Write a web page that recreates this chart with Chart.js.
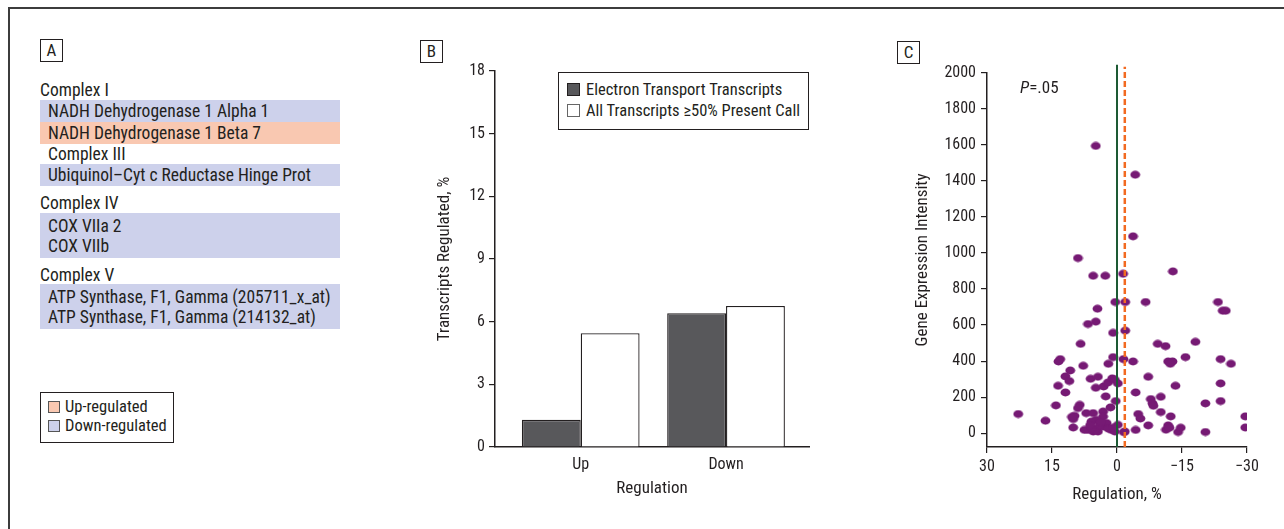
<!DOCTYPE html>
<html>
<head>
<meta charset="utf-8">
<script src="https://cdn.jsdelivr.net/npm/chart.js@4.4.1/dist/chart.umd.min.js"></script>
<style>
  html, body { margin:0; padding:0; background:#fff; }
  body { width:1284px; height:529px; overflow:hidden; position:relative; color:#231f20;
         font-family:'Liberation Sans Narrow','Arial Narrow','Roboto Condensed','Liberation Sans',Arial,sans-serif; }
  .frame { position:absolute; left:8px; top:7px; width:1300px; height:540px; border-left:2px solid #3c3c3c; border-top:2px solid #3c3c3c; }
  .lbl { position:absolute; width:21px; height:21px; border:1px solid #231f20; background:#fff; font-size:17px; line-height:21px; text-align:center; }
  .row { position:absolute; left:40px; width:300px; font-size:17.5px; line-height:20px; white-space:nowrap; }
  .blue { background:#cdd1eb; }
  .orange { background:#f9c8b1; }
  .ind { padding-left:8px; box-sizing:border-box; }
  .lg { position:absolute; border:1px solid #231f20; background:#fff; }
  .sw { position:absolute; width:10px; height:10px; border:1px solid #555; }
  .lt { position:absolute; font-size:16.5px; line-height:20px; white-space:nowrap; }
  canvas { position:absolute; }
</style>
</head>
<body>
<div class="frame"></div>

<!-- Panel A -->
<div class="lbl" style="left:40px;top:39px;">A</div>
<div id="panelA"></div>
<div class="lg" style="left:40px;top:392px;width:132px;height:49px;">
  <div class="sw orange" style="left:7px;top:8px;"></div>
  <div class="lt" style="left:24px;top:4px;">Up-regulated</div>
  <div class="sw blue" style="left:7px;top:27px;"></div>
  <div class="lt" style="left:24px;top:23px;">Down-regulated</div>
</div>

<!-- Panel B -->
<div class="lbl" style="left:420px;top:40px;">B</div>
<canvas id="cB" width="400" height="480" style="left:420px;top:40px;"></canvas>
<div class="lg" style="left:558px;top:72px;width:249px;height:56px;">
  <div class="sw" style="left:8px;top:10px;width:11px;height:11px;background:#58585b;border-color:#231f20;"></div>
  <div class="lt" style="left:27px;top:7px;">Electron Transport Transcripts</div>
  <div class="sw" style="left:8px;top:31px;width:11px;height:11px;background:#fff;border-color:#666;"></div>
  <div class="lt" style="left:27px;top:28px;">All Transcripts ≥50% Present Call</div>
</div>

<!-- Panel C -->
<div class="lbl" style="left:897px;top:41px;">C</div>
<canvas id="cC" width="394" height="480" style="left:890px;top:40px;"></canvas>
<div class="lt" style="left:1020px;top:77px;font-size:17px;"><i>P</i>=.05</div>

<script>
// ---------- Panel A content ----------
const complexGroups = [
  { name: 'Complex I',   indent: false, items: ['NADH Dehydrogenase 1 Alpha 1', 'NADH Dehydrogenase 1 Beta 7'], dirs: ['down', 'up'] },
  { name: 'Complex III', indent: true,  items: ['Ubiquinol–Cyt c Reductase Hinge Prot'], dirs: ['down'] },
  { name: 'Complex IV',  indent: false, items: ['COX VIIa 2', 'COX VIIb'], dirs: ['down', 'down'] },
  { name: 'Complex V',   indent: false, items: ['ATP Synthase, F1, Gamma (205711_x_at)', 'ATP Synthase, F1, Gamma (214132_at)'], dirs: ['down', 'down'] }
];

// ---------- Panel B data ----------
const categories = ['Up', 'Down'];
const electronTransport = [1.3, 6.4];
const allTranscripts = [5.45, 6.75];
const yTicksB = [0, 3, 6, 9, 12, 15, 18];

// ---------- Panel C data ----------
const regulationPct = [4.9,-4.2,-3.7,9.0,5.5,2.7,-1.4,-12.9,0.4,-1.9,
  -6.6,-23.3,-24.4,-25.1,4.5,6.7,4.9,0.9,-1.9,8.4,
  -9.4,-11.2,-18.1,-15.8,-23.9,-26.3,-11.8,-12.8,-12.3,13.1,
  13.5,0.9,-1.5,-3.7,2.0,7.8,10.8,11.9,11.0,13.6,
  11.9,6.1,4.4,4.9,3.1,2.1,1.1,0.5,-0.2,2.6,
  -7.2,-13.5,-23.9,-4.3,-10.1,-7.8,-8.2,-8.4,-20.4,-23.9,
  0.3,1.5,14.1,22.8,16.5,8.6,9.0,9.8,10.1,10.4,
  10.1,7.1,5.5,3.2,3.2,4.8,5.9,6.7,7.5,5.5,
  4.4,5.0,3.2,2.4,1.3,0.5,-0.2,-1.8,-1.6,-4.3,
  -4.9,-5.4,-7.2,-10.1,-12.4,-11.3,-11.8,-12.1,-14.1,-14.7,
  -20.4,-29.6,-29.6,5.8,6.2,4.0,2.0,0.9,3.8];
const expressionIntensity = [1595,1435,1093,972,874,874,885,898,728,728,
  728,728,680,680,691,606,619,557,569,496,
  496,483,507,422,411,385,398,398,385,411,
  398,422,411,398,385,374,348,315,289,263,
  226,302,313,252,259,281,304,296,276,204,
  313,263,276,226,202,189,165,152,165,178,
  178,143,154,106,69,157,139,96,78,90,
  31,111,111,120,92,74,64,18,18,9,
  9,20,37,56,18,9,46,9,5,18,
  106,81,43,117,93,19,43,30,6,30,
  6,93,31,30,45,45,25,30,60];
const yTicksC = [0,200,400,600,800,1000,1200,1400,1600,1800,2000];
const xTicksC = [30, 15, 0, -15, -30];
const zeroLineX = 0;
const pThresholdX = -1.8;

// ---------- Build Panel A ----------
(function () {
  const host = document.getElementById('panelA');
  const layout = [
    { head: 80, band: 100 },
    { head: 144, band: 164 },
    { head: 193, band: 213 },
    { head: 265, band: 284 }
  ];
  complexGroups.forEach((g, gi) => {
    const h = document.createElement('div');
    h.className = 'row' + (g.indent ? ' ind' : '');
    h.style.top = layout[gi].head + 'px';
    h.style.height = '20px';
    h.textContent = g.name;
    host.appendChild(h);
    const sameColor = g.dirs.every(d => d === g.dirs[0]);
    if (sameColor && g.items.length > 1) {
      const b = document.createElement('div');
      b.className = 'row ind ' + (g.dirs[0] === 'up' ? 'orange' : 'blue');
      b.style.top = layout[gi].band + 'px';
      b.style.height = (g.items.length * 20 + 5) + 'px';
      b.style.paddingTop = '3px';
      b.innerHTML = g.items.map(t => '<div>' + t + '</div>').join('');
      host.appendChild(b);
    } else {
      g.items.forEach((t, i) => {
        const b = document.createElement('div');
        b.className = 'row ind ' + (g.dirs[i] === 'up' ? 'orange' : 'blue');
        b.style.top = (layout[gi].band + i * 22) + 'px';
        b.style.height = '22px';
        b.style.lineHeight = '22px';
        b.textContent = t;
        host.appendChild(b);
      });
    }
  });
})();

// ---------- Chart defaults ----------
const INK = '#231f20';
Chart.defaults.font.family = "'Liberation Sans Narrow','Arial Narrow','Roboto Condensed','Liberation Sans',Arial,sans-serif";
Chart.defaults.font.size = 16;
Chart.defaults.color = INK;
Chart.defaults.animation = false;

// ---------- Panel B chart ----------
new Chart(document.getElementById('cB'), {
  type: 'bar',
  data: {
    datasets: [
      { label: 'Electron Transport Transcripts',
        data: categories.map((c, i) => ({ x: i + 1, y: electronTransport[i] })),
        backgroundColor: '#58585b', borderColor: INK, borderWidth: 1.3 },
      { label: 'All Transcripts ≥50% Present Call',
        data: categories.map((c, i) => ({ x: i + 1, y: allTranscripts[i] })),
        backgroundColor: '#ffffff', borderColor: INK, borderWidth: 1.3 }
    ]
  },
  options: {
    responsive: false,
    categoryPercentage: 0.81,
    barPercentage: 1,
    layout: { padding: { left: 0, top: 31, right: 11, bottom: 0 } },
    plugins: { legend: { display: false }, tooltip: { enabled: false } },
    scales: {
      x: {
        type: 'linear', min: 0.41, max: 2.571, offset: false,
        afterBuildTicks: s => { s.ticks = categories.map((c, i) => ({ value: i + 1 })); },
        ticks: { callback: v => categories[v - 1], padding: 8, maxRotation: 0, autoSkip: false },
        grid: { display: true, drawOnChartArea: false, drawTicks: false, offset: false },
        border: { display: true, color: INK, width: 1.5 },
        title: { display: true, text: 'Regulation', font: { size: 17 }, padding: { top: 0, bottom: 21 } },
        afterFit: s => { s.height = 73; }
      },
      y: {
        min: 0, max: 18,
        afterBuildTicks: s => { s.ticks = yTicksB.map(v => ({ value: v })); },
        ticks: { padding: 4, callback: v => String(v) },
        grid: { drawOnChartArea: false, drawTicks: true, tickLength: 6, color: INK, lineWidth: 1.2 },
        border: { display: true, color: INK, width: 1.5 },
        title: { display: true, text: 'Transcripts Regulated, %', font: { size: 17 }, padding: { top: 15, bottom: 0 } },
        afterFit: s => { s.width = 75; }
      }
    }
  }
});

// ---------- Panel C chart ----------
const dot = document.createElement('canvas');
dot.width = 11; dot.height = 9;
(function () {
  const g = dot.getContext('2d');
  g.fillStyle = '#761a74';
  g.beginPath();
  g.ellipse(5.5, 4.5, 4.9, 3.9, 0, 0, Math.PI * 2);
  g.fill();
})();

new Chart(document.getElementById('cC'), {
  type: 'scatter',
  data: {
    datasets: [
      { label: 'zero', data: [{ x: zeroLineX, y: -77 }, { x: zeroLineX, y: 2046 }],
        showLine: true, borderColor: '#1d5a34', borderWidth: 2, pointRadius: 0, clip: false },
      { label: 'P=.05', data: [{ x: pThresholdX, y: -77 }, { x: pThresholdX, y: 2035 }],
        showLine: true, borderColor: '#f26a21', borderWidth: 2.5, borderDash: [6, 3], pointRadius: 0, clip: false },
      { label: 'genes',
        data: regulationPct.map((v, i) => ({ x: v, y: expressionIntensity[i] })),
        pointStyle: dot, pointRadius: 5, showLine: false }
    ]
  },
  options: {
    responsive: false,
    layout: { padding: { left: 0, top: 33, right: 37, bottom: 0 } },
    plugins: { legend: { display: false }, tooltip: { enabled: false } },
    scales: {
      x: {
        type: 'linear', min: -30, max: 30, reverse: true,
        afterBuildTicks: s => { s.ticks = xTicksC.map(v => ({ value: v })); },
        ticks: { callback: v => (v < 0 ? '\u2212' + Math.abs(v) : String(v)), padding: 4, maxRotation: 0, autoSkip: false },
        grid: { drawOnChartArea: false, drawTicks: true, tickLength: 6, color: INK, lineWidth: 1.2 },
        border: { display: true, color: INK, width: 1.5 },
        title: { display: true, text: 'Regulation, %', font: { size: 17 }, padding: { top: 0, bottom: 15 } },
        afterFit: s => { s.height = 73; }
      },
      y: {
        min: -77, max: 2000,
        afterBuildTicks: s => { s.ticks = yTicksC.map(v => ({ value: v })); },
        ticks: { padding: 5, callback: v => String(v) },
        grid: { drawOnChartArea: false, drawTicks: true, tickLength: 6, color: INK, lineWidth: 1.2 },
        border: { display: true, color: INK, width: 1.5 },
        title: { display: true, text: 'Gene Expression Intensity', font: { size: 17 }, padding: { top: 23, bottom: 0 } },
        afterFit: s => { s.width = 97; }
      }
    }
  }
});
</script>
</body>
</html>
